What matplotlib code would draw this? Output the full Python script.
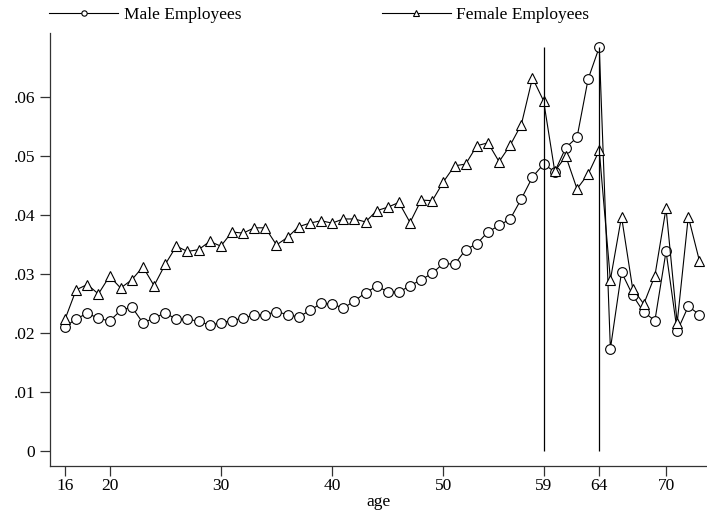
import matplotlib
matplotlib.use("Agg")
from matplotlib import pyplot as plt

ages = list(range(16, 74))

male = [0.0210, 0.0224, 0.0233, 0.0225, 0.0220, 0.0238, 0.0244, 0.0217, 0.0225, 0.0234,
        0.0223, 0.0223, 0.0220, 0.0213, 0.0217, 0.0221, 0.0225, 0.0230, 0.0231, 0.0236,
        0.0231, 0.0227, 0.0238, 0.0250, 0.0249, 0.0242, 0.0254, 0.0268, 0.0279, 0.0270,
        0.0269, 0.0280, 0.0290, 0.0301, 0.0318, 0.0316, 0.0341, 0.0351, 0.0371, 0.0382,
        0.0393, 0.0427, 0.0464, 0.0486, 0.0473, 0.0514, 0.0531, 0.0630, 0.0684, 0.0173,
        0.0303, 0.0264, 0.0235, 0.0221, 0.0338, 0.0203, 0.0245, 0.0231]

female = [0.0223, 0.0273, 0.0282, 0.0266, 0.0296, 0.0276, 0.0290, 0.0312, 0.0280, 0.0316,
          0.0347, 0.0338, 0.0341, 0.0355, 0.0347, 0.0371, 0.0369, 0.0378, 0.0378, 0.0349,
          0.0362, 0.0380, 0.0386, 0.0390, 0.0386, 0.0393, 0.0393, 0.0388, 0.0407, 0.0413,
          0.0421, 0.0387, 0.0425, 0.0424, 0.0456, 0.0483, 0.0486, 0.0517, 0.0522, 0.0490,
          0.0518, 0.0553, 0.0632, 0.0593, 0.0474, 0.0499, 0.0444, 0.0469, 0.0509, 0.0290,
          0.0397, 0.0275, 0.0249, 0.0297, 0.0411, 0.0217, 0.0397, 0.0322]

cutoff_ages = [59, 64]
x_ticks = [16, 20, 30, 40, 50, 59, 64, 70]
y_ticks = [0, 0.01, 0.02, 0.03, 0.04, 0.05, 0.06]
y_labels = ["0", ".01", ".02", ".03", ".04", ".05", ".06"]

plt.rcParams["font.family"] = ["Liberation Serif", "DejaVu Serif"]
plt.rcParams["font.size"] = 12.5

fig = plt.figure(figsize=(7.07, 5.14), dpi=100)
ax = fig.add_axes([0.0707, 0.0934, 0.9293, 0.8424])

ax.plot(ages, male, color="black", lw=0.8, marker="o", ms=7, mfc="white",
        mec="black", mew=0.8, label="Male Employees")
ax.plot(ages, female, color="black", lw=0.8, marker="^", ms=7, mfc="white",
        mec="black", mew=0.8, label="Female Employees")
ax.vlines(cutoff_ages, 0, max(male), color="black", lw=0.9)

ax.set_xlim(14.65, 73.68)
ax.set_ylim(-0.00254, 0.0708)
ax.set_xticks(x_ticks)
ax.set_yticks(y_ticks)
ax.set_yticklabels(y_labels)
ax.tick_params(direction="out", length=7, width=0.9, color="#333333")
ax.tick_params(axis="x", pad=2)
ax.set_xlabel("age", labelpad=0)

for side in ["top", "right"]:
    ax.spines[side].set_visible(False)
for side in ["left", "bottom"]:
    ax.spines[side].set_color("#333333")
    ax.spines[side].set_linewidth(0.9)

fig.legend(loc="upper left", bbox_to_anchor=(49 / 707, 0.987), ncol=2, frameon=False,
           borderpad=0, borderaxespad=0, handlelength=4.0, handletextpad=0.3,
           columnspacing=8.1, markerscale=0.55)

fig.savefig("out.png", dpi=100)
